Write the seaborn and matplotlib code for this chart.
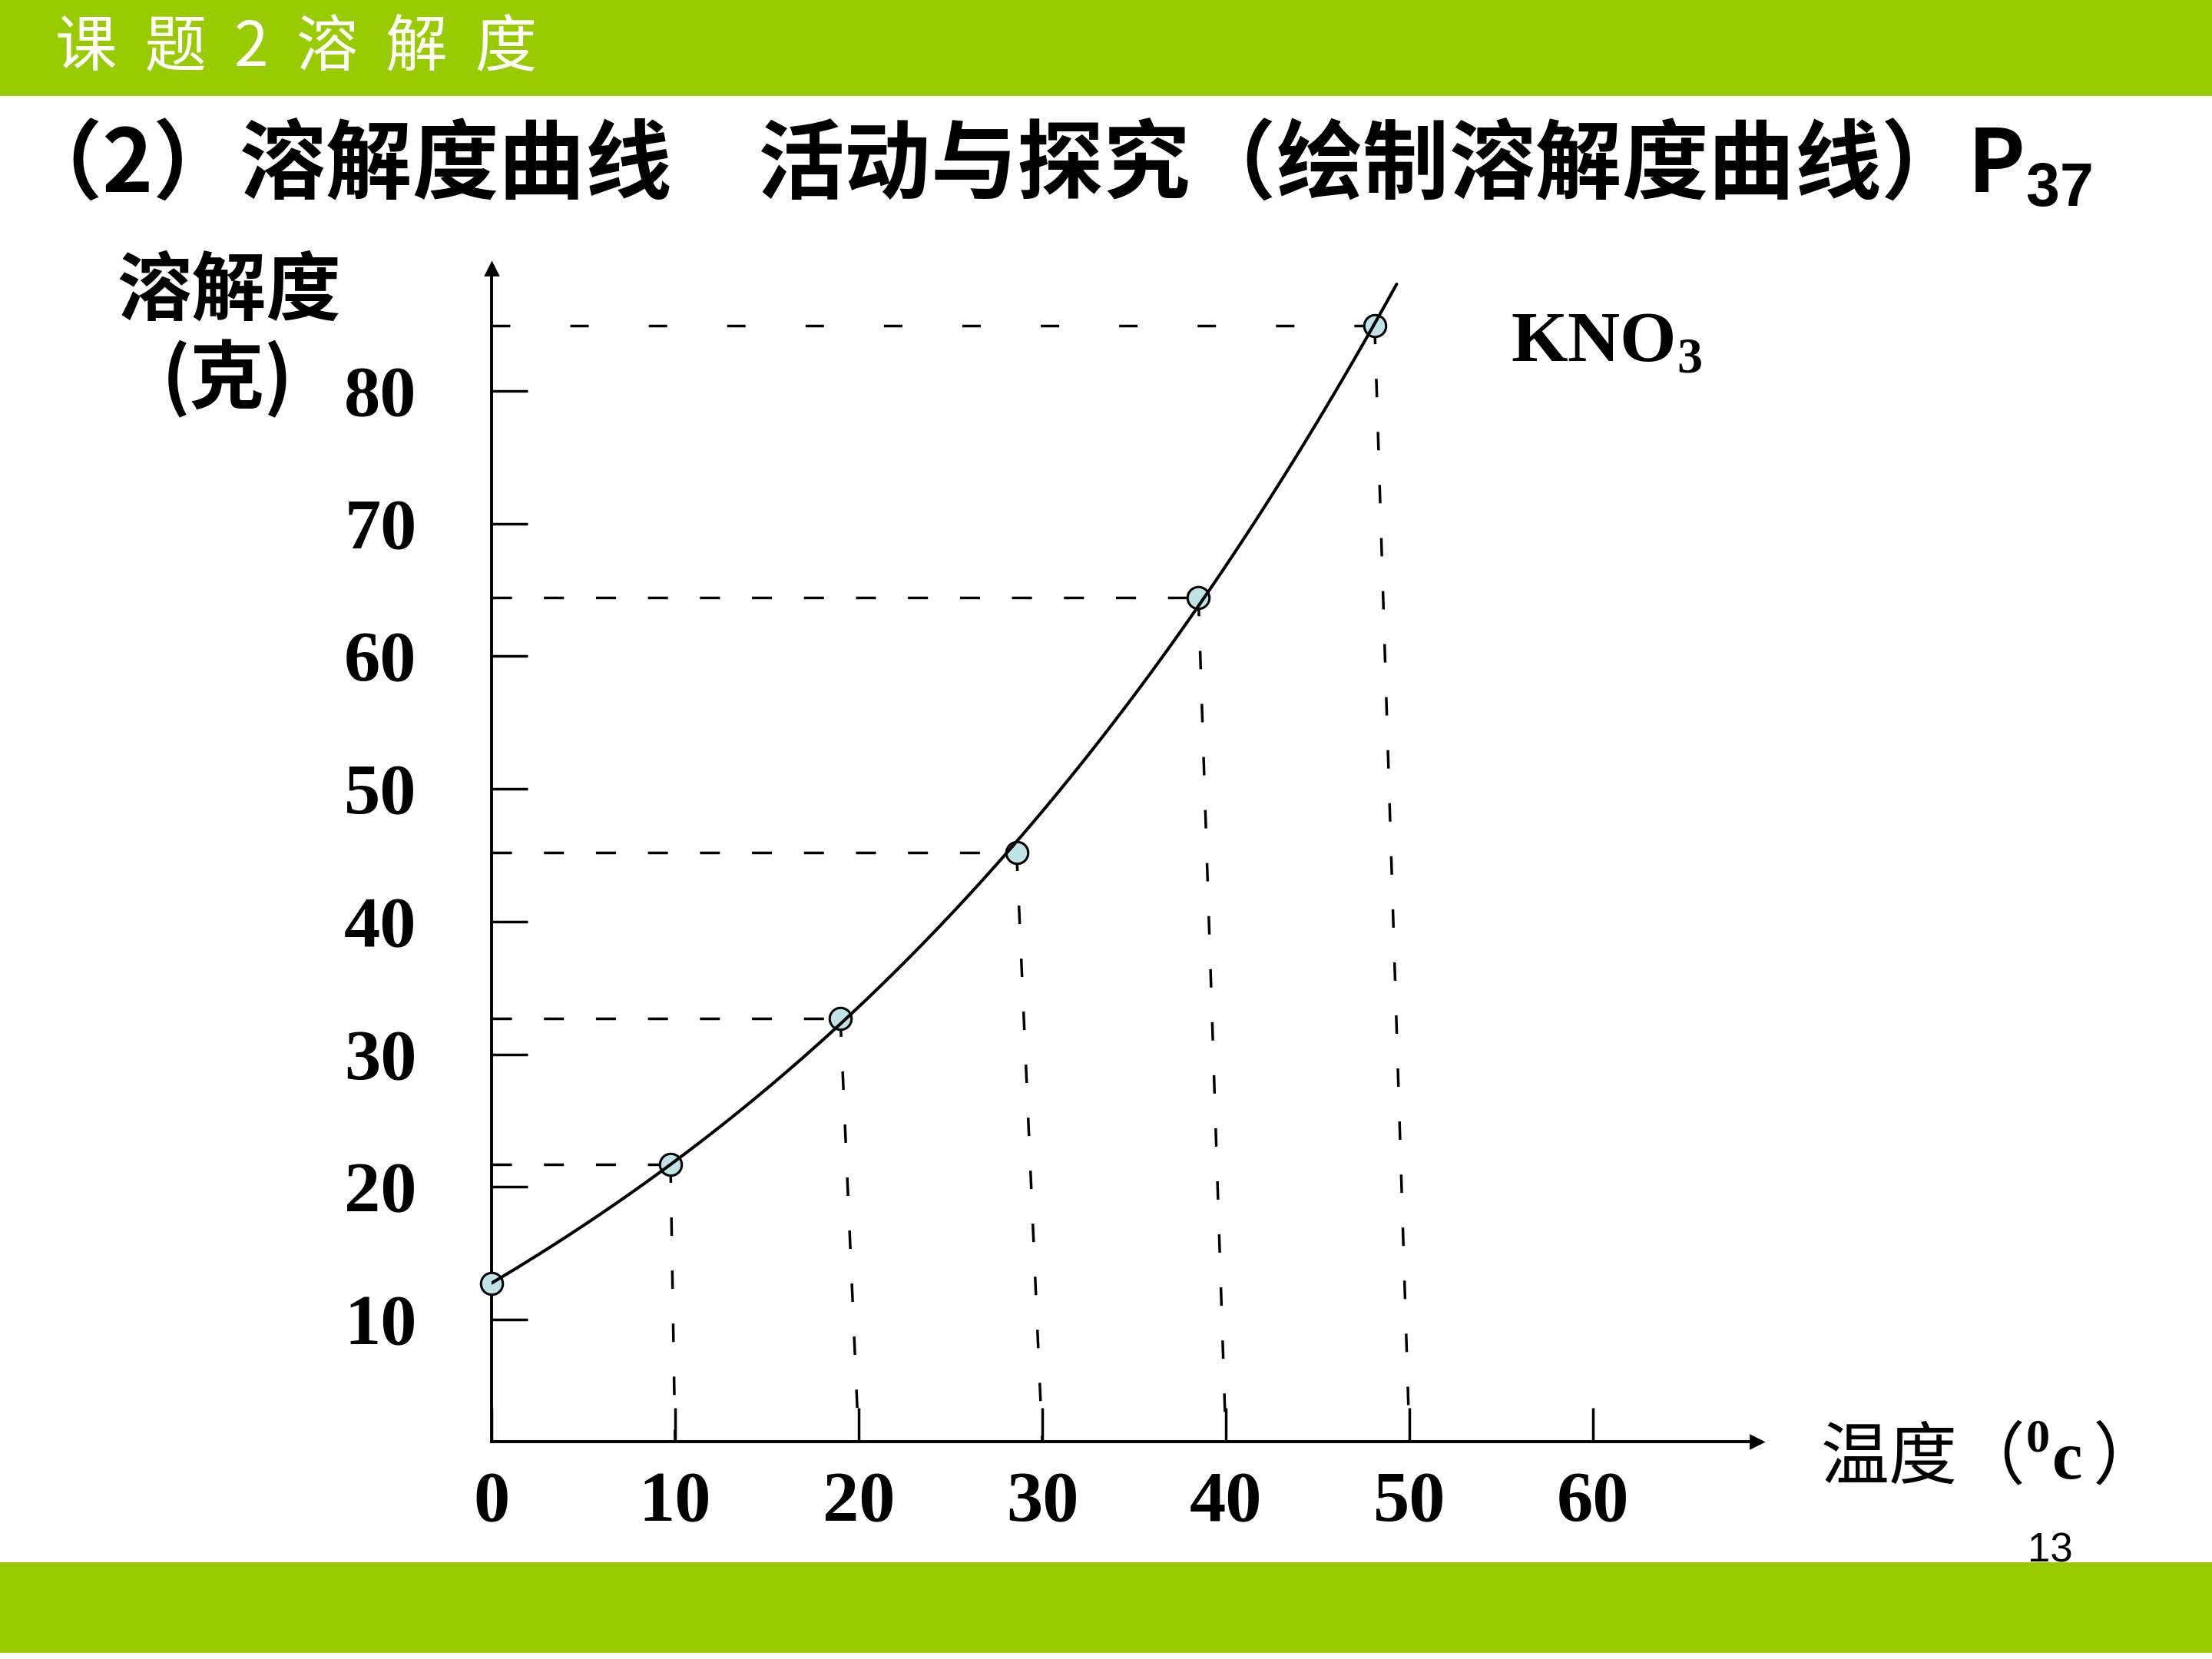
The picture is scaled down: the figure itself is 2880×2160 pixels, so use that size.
import matplotlib
matplotlib.use("Agg")
import matplotlib.pyplot as plt
import seaborn as sns
from matplotlib.patches import Rectangle

# temperatures marked on the x axis (where each vertical guide lands)
temperature = [0, 10, 20, 30, 40, 50]
# where the circles sit on the drawing (degrees C)
point_temp = [0, 9.75, 19.0, 28.6, 38.5, 48.1]
# KNO3 solubility (grams)
solubility = [12.7, 21.7, 32.7, 45.2, 64.4, 84.9]

x_ticks = [0, 10, 20, 30, 40, 50, 60]
y_ticks = [10, 20, 30, 40, 50, 60, 70, 80]

green = "#99CC00"
dot_fill = "#BFE3E6"

sns.set_style("white")
plt.rcParams["font.family"] = ["Noto Sans CJK SC", "DejaVu Sans"]
plt.rcParams["text.color"] = "black"
plt.rcParams["mathtext.fontset"] = "custom"
plt.rcParams["mathtext.bf"] = "Liberation Serif:bold"
plt.rcParams["mathtext.rm"] = "Liberation Serif:bold"
plt.rcParams["mathtext.sf"] = "Liberation Sans:bold"

fig = plt.figure(figsize=(14.4, 10.8), dpi=200)

# green slide bars
fig.add_artist(Rectangle((0, 0.943), 1, 0.057, transform=fig.transFigure, color=green, zorder=0))
fig.add_artist(Rectangle((0, 0.0046), 1, 0.0533, transform=fig.transFigure, color=green, zorder=0))

ax = fig.add_axes([0.2222, 0.1310, 0.5719, 0.7070])
ymin = 0.8

# smooth curve, drawn a little past the last point like on the slide
ax.set_xlim(0, 49.3)
sns.regplot(x=point_temp, y=solubility, order=3, ci=None, scatter=False, truncate=False,
            color="black", line_kws={"lw": 1.45, "zorder": 4}, ax=ax)
ax.set_xlim(0, 68.9)
ax.set_ylim(ymin, 89.2)

sns.scatterplot(x=point_temp, y=solubility, s=105, color=dot_fill, edgecolor="black",
                linewidth=1.1, zorder=3, clip_on=False, ax=ax)

# dashed guides to both axes
for i in range(1, len(temperature)):
    hdash = (0, (6.9, 22.5)) if i == len(temperature) - 1 else (0, (7.5, 12))
    ax.plot([0, point_temp[i]], [solubility[i], solubility[i]], color="black", lw=1.25, ls=hdash, zorder=2)
    ax.plot([point_temp[i], temperature[i]], [solubility[i], ymin], color="black", lw=1.25,
            ls=(0, (6.9, 13)), zorder=2)

ax.set_xticks(x_ticks)
ax.set_yticks(y_ticks)
ax.tick_params(axis="x", direction="in", length=16, width=1.25, pad=14, labelsize=34,
               bottom=True, colors="black")
ax.tick_params(axis="y", direction="in", length=17, width=1.25, pad=35, labelsize=34,
               left=True, colors="black")
for lab in ax.get_xticklabels() + ax.get_yticklabels():
    lab.set_fontfamily("Liberation Serif")
    lab.set_fontweight("bold")

sns.despine(ax=ax)
for side in ["left", "bottom"]:
    ax.spines[side].set_color("black")
    ax.spines[side].set_linewidth(1.4)
ax.set_xlabel("")
ax.set_ylabel("")

# arrow heads on the axes
ax.plot(1, 0, ">k", ms=6, transform=ax.transAxes, clip_on=False)
ax.plot(0, 1, "^k", ms=6, transform=ax.transAxes, clip_on=False)

# texts
fig.text(0.025, 0.9713, "课  题  2  溶  解  度", color="white", fontsize=29, va="center", ha="left")
fig.text(0.007, 0.8843, "（2）溶解度曲线　活动与探究（绘制溶解度曲线）P$_\\mathsf{37}$",
         fontsize=40.5, fontweight="bold", va="baseline", ha="left")
fig.text(0.683, 0.7824, "KNO$_\\mathbf{3}$", fontfamily="Liberation Serif", fontweight="bold",
         fontsize=34, va="baseline", ha="left")
fig.text(0.1035, 0.8241, "溶解度", fontsize=35, fontweight="bold", ha="center", va="center")
fig.text(0.1028, 0.7713, "(克)", fontsize=35, fontweight="bold", ha="center", va="center")
fig.text(0.8230, 0.1204, "温度（$^\\mathbf{0}\\mathbf{c}\\,$）", fontsize=32, ha="left", va="center")
fig.text(0.927, 0.065, "13", fontfamily="Liberation Sans", fontsize=19, ha="center", va="center")

fig.savefig("out.png", dpi=200)
